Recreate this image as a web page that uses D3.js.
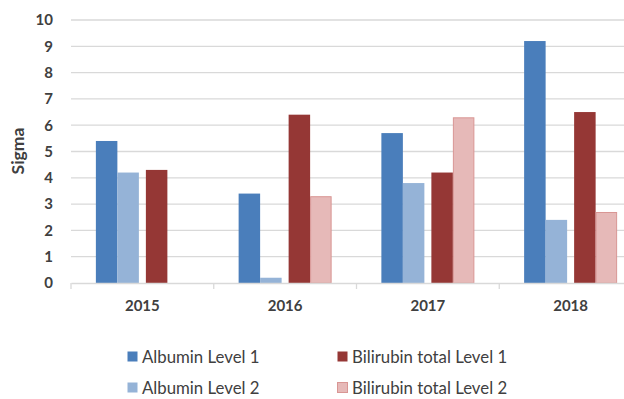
<!DOCTYPE html>
<html>
<head>
<meta charset="utf-8">
<script src="https://cdn.jsdelivr.net/npm/d3@7"></script>
<style>
  html, body { margin: 0; padding: 0; background: #fff; }
  svg { display: block; }
</style>
</head>
<body>
<svg id="chart" width="624" height="399"></svg>
<script>
// Sigma values per year for each analyte / control level
const years = ["2015", "2016", "2017", "2018"];
const seriesNames = ["Albumin Level 1", "Albumin Level 2", "Bilirubin total Level 1", "Bilirubin total Level 2"];
const albuminL1 = [5.4, 3.4, 5.7, 9.2];
const albuminL2 = [4.2, 0.2, 3.8, 2.4];
const bilirubinL1 = [4.3, 6.4, 4.2, 6.5];
const bilirubinL2 = [0, 3.3, 6.3, 2.7];
const yTicks = [0, 1, 2, 3, 4, 5, 6, 7, 8, 9, 10];

const seriesValues = [albuminL1, albuminL2, bilirubinL1, bilirubinL2];
const fills = ["#4a7ebb", "#95b3d7", "#953735", "#e6b9b8"];
const strokes = [null, null, null, "#d99694"];

const svg = d3.select("#chart");
const font = "Lato, 'Open Sans', sans-serif";
const textColor = "#404040";

const plot = { left: 71, right: 642, top: 20, bottom: 283 };

const x0 = d3.scaleBand().domain(years).range([plot.left, plot.right]).padding(0);
const y = d3.scaleLinear().domain([0, 10]).range([plot.bottom, plot.top]);

// bars in each year: two albumin bars, a small gap, two bilirubin bars
const barW = 21.5, pairGap = 7;
const groupW = barW * 4 + pairGap;
const offsetOf = i => (i < 2 ? i * barW : i * barW + pairGap);

// gridlines
svg.append("g")
  .selectAll("line")
  .data(yTicks.filter(t => t > 0))
  .join("line")
  .attr("x1", plot.left).attr("x2", plot.right)
  .attr("y1", d => y(d)).attr("y2", d => y(d))
  .attr("stroke", "#d9d9d9").attr("stroke-width", 1.3);

// bars
const rows = years.map((yr, j) => ({ year: yr, vals: seriesValues.map(s => s[j]) }));
const groups = svg.append("g").selectAll("g")
  .data(rows)
  .join("g")
  .attr("transform", d => `translate(${x0(d.year) + x0.bandwidth() / 2 - groupW / 2},0)`);

groups.selectAll("rect")
  .data(d => d.vals.map((v, i) => ({ v, i })))
  .join("rect")
  .attr("x", d => offsetOf(d.i) + (strokes[d.i] ? 0.5 : 0))
  .attr("width", d => barW - (strokes[d.i] ? 1 : 0))
  .attr("y", d => y(d.v) + (strokes[d.i] ? 0.5 : 0))
  .attr("height", d => Math.max(0, y(0) - y(d.v) - (strokes[d.i] ? 0.5 : 0)))
  .attr("fill", d => fills[d.i])
  .attr("stroke", d => strokes[d.i] || "none")
  .attr("stroke-width", 1)
  .style("display", d => d.v > 0 ? null : "none");

// x axis
const xAxis = d3.axisBottom(x0).tickSize(0).tickPadding(17);
const xg = svg.append("g").attr("transform", `translate(0,${plot.bottom})`).call(xAxis);
xg.select(".domain").attr("stroke", "#d9d9d9").attr("stroke-width", 1.3);
xg.selectAll(".tick text")
  .attr("font-family", font).attr("font-weight", "bold")
  .attr("font-size", 15).attr("fill", textColor);
// category separators
svg.append("g").selectAll("line")
  .data(years.concat(["end"]).map((d, i) => plot.left + i * x0.bandwidth()))
  .join("line")
  .attr("x1", d => d).attr("x2", d => d)
  .attr("y1", plot.bottom).attr("y2", plot.bottom + 6)
  .attr("stroke", "#d9d9d9").attr("stroke-width", 1.3);

// y axis labels
const yAxis = d3.axisLeft(y).tickValues(yTicks).tickSize(0).tickPadding(18).tickFormat(d3.format("d"));
const yg = svg.append("g").attr("transform", `translate(${plot.left},0)`).call(yAxis);
yg.select(".domain").remove();
yg.selectAll(".tick text")
  .attr("font-family", font).attr("font-weight", "bold")
  .attr("font-size", 15).attr("fill", textColor);

// y axis title
svg.append("text")
  .attr("transform", "translate(24,151) rotate(-90)")
  .attr("text-anchor", "middle")
  .attr("font-family", font).attr("font-weight", "bold")
  .attr("font-size", 17.5).attr("fill", textColor)
  .text("Sigma");

// legend
const legendPos = [[127, 363], [127, 394], [337, 363], [337, 394]];
const legend = svg.append("g").selectAll("g")
  .data(seriesNames.map((name, i) => ({ name, i })))
  .join("g")
  .attr("transform", d => `translate(${legendPos[d.i][0]},${legendPos[d.i][1]})`);
legend.append("rect")
  .attr("x", 0.5).attr("y", -11.5).attr("width", 10).attr("height", 10)
  .attr("fill", d => fills[d.i])
  .attr("stroke", d => strokes[d.i] || "none");
legend.append("text")
  .attr("x", 15).attr("y", 0)
  .attr("font-family", font).attr("font-size", 16.8).attr("fill", textColor)
  .text(d => d.name);
</script>
</body>
</html>
